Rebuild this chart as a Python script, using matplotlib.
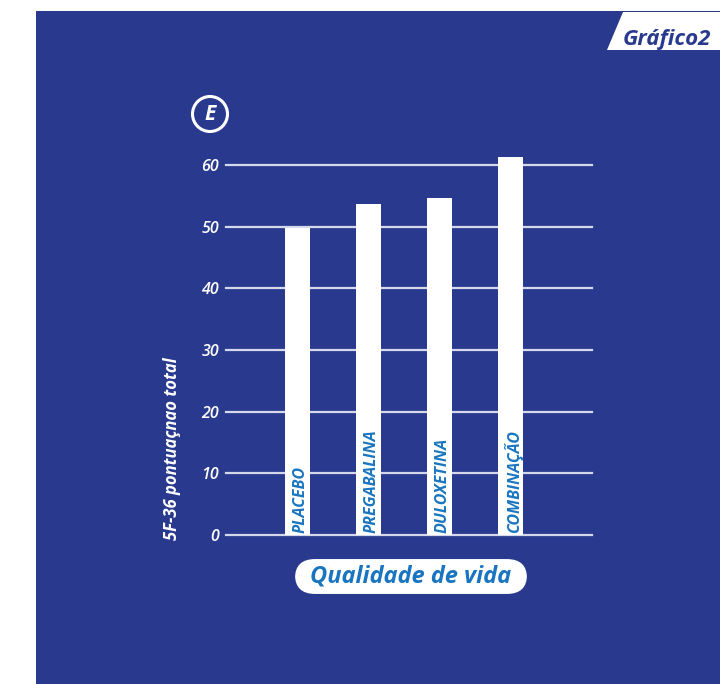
import matplotlib
matplotlib.use("Agg")
import matplotlib.pyplot as plt
from matplotlib.patches import Rectangle, Polygon, FancyBboxPatch, Ellipse

categories = ["PLACEBO", "PREGABALINA", "DULOXETINA", "COMBINAÇÃO"]
values = [49.8, 53.6, 54.6, 61.3]
yticks = [0, 10, 20, 30, 40, 50, 60]
ylabel = "5F-36 pontuaçnao total"
xlabel = "Qualidade de vida"
tab_text = "Gráfico2"
panel_letter = "E"

BLUE = "#293a8e"
LBLUE = "#1a75c0"
FONT = ["Open Sans", "DejaVu Sans"]
plt.rcParams['font.family'] = FONT

W, H = 720, 684
fig = plt.figure(figsize=(W / 100, H / 100), dpi=100, facecolor="white")

def fx(x): return x / W
def fy(y): return 1 - y / H

# blue panel
fig.patches.append(Rectangle((fx(36), 0), 1 - fx(36), fy(11), transform=fig.transFigure,
                             facecolor=BLUE, edgecolor="none", zorder=-10))
# tab
fig.patches.append(Polygon([(fx(623), fy(12)), (fx(720), fy(12)), (fx(720), fy(50)), (fx(607), fy(50))],
                           closed=True, transform=fig.transFigure, facecolor="white",
                           edgecolor="none", zorder=-5))
fig.text(fx(667), fy(39), tab_text, color=BLUE, fontsize=16, fontweight="bold",
         fontstyle="italic", ha="center", va="center", zorder=2)

# axes
ax_l, ax_r, ax_b, ax_t = 226, 592, 535, 165
ax = fig.add_axes([fx(ax_l), fy(ax_b), fx(ax_r) - fx(ax_l), fy(ax_t) - fy(ax_b)])
ax.set_facecolor("none")
x = list(range(len(categories)))
bars = ax.bar(x, values, width=0.352, color="white", zorder=3)
for b in bars:
    b.set_clip_on(False)
ax.set_xlim(-1.007, 4.148)
ax.set_ylim(0, 60)
for t in yticks:
    ax.axhline(t, color="#d4d8ea", lw=1.6, zorder=2, clip_on=False)
for s in ax.spines.values():
    s.set_visible(False)
ax.set_xticks([])
ax.set_yticks(yticks)
ax.tick_params(axis="y", length=0, pad=5, labelcolor="white", labelsize=11.5)
for lab in ax.get_yticklabels():
    lab.set_fontstyle("italic")
    lab.set_fontweight("semibold")
for xi, c in zip(x, categories):
    ax.text(xi + 0.04, 0.3, c, rotation=90, ha="center", va="bottom", color=LBLUE,
            fontsize=11.5, fontweight="bold", fontstyle="italic", zorder=4)

fig.text(fx(172), fy(540), ylabel, rotation=90, ha="center", va="bottom", color="white",
         fontsize=12, fontweight="bold", fontstyle="italic")

# panel letter
r = 17.5
fig.patches.append(Ellipse((fx(210), fy(114)), 2 * r / W, 2 * r / H, transform=fig.transFigure,
                           facecolor="none", edgecolor="white", lw=2.2, zorder=2))
fig.text(fx(210), fy(114), panel_letter, color="white", fontsize=15, fontweight="bold",
         fontstyle="italic", ha="center", va="center")

# pill
pill = FancyBboxPatch((fx(295) + 0.025, fy(596) + 0.028), fx(527) - fx(295) - 0.05,
                      fy(557) - fy(596) - 0.056,
                      boxstyle="round,pad=0.025,rounding_size=0.028",
                      transform=fig.transFigure, facecolor="white", edgecolor="none")
fig.patches.append(pill)
fig.text(fx(411), fy(577), xlabel, color=LBLUE, fontsize=17, fontweight="bold",
         fontstyle="italic", ha="center", va="center")

fig.savefig("out.png", dpi=100, facecolor="white")
